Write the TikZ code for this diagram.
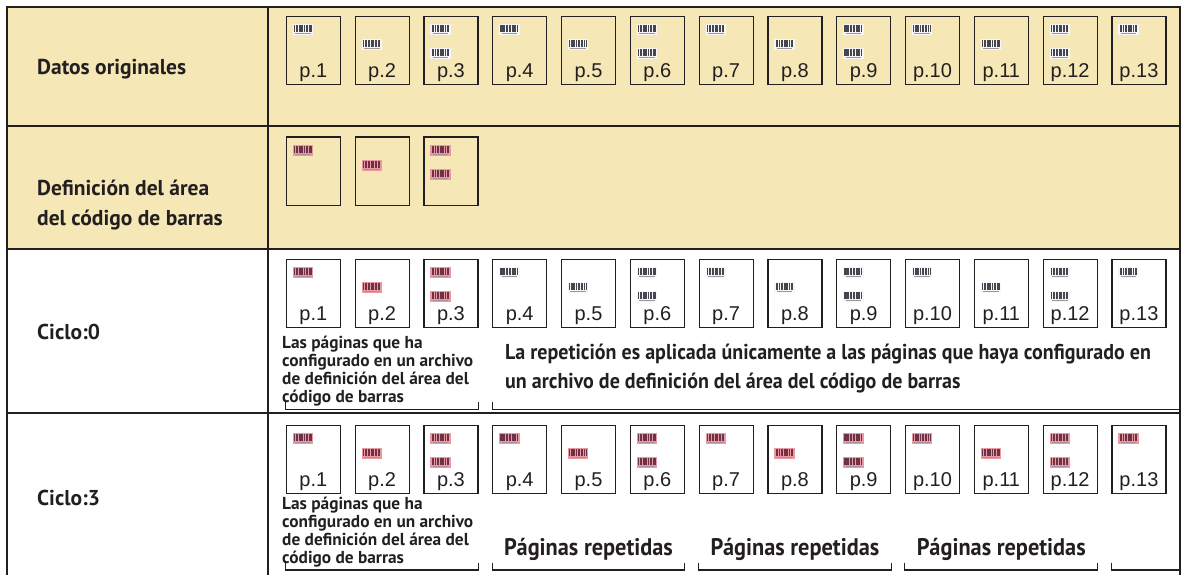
\documentclass[tikz,border=0pt]{standalone}
\usepackage{fontspec}
\setmainfont{PT Sans}
\newfontfamily\arialfont{Liberation Sans}
\newfontfamily\estrecha[FakeStretch=0.93]{PT Sans}
\usetikzlibrary{calc}

\definecolor{tinta}{RGB}{35,31,32}
\definecolor{crema}{RGB}{245,231,182}
\definecolor{rosa}{RGB}{234,152,162}
\definecolor{rosaosc}{RGB}{110,50,70}
\definecolor{blanco}{RGB}{246,246,246}
\definecolor{gris}{RGB}{70,70,80}

% codigo de barras pequeno, #1 = esquina superior izquierda, #2 = fondo, #3 = barras
\newcommand{\codbar}[3]{%
  \begin{scope}[shift={#1}]
    \fill[#2] (0,0) rectangle (20.5,-11);
    \foreach \b/\w in {1.2/1.2,3/0.7,4.3/1.4,6.4/0.7,7.7/1.2,9.6/0.7,10.9/1.4,13/0.7,14.3/1.2,16.2/0.7,17.6/1.3}
      \fill[#3] (\b,-0.8) rectangle ++(\w,-7.2);
    \fill[#3!55] (2.5,-8.8) rectangle (18,-9.7);
  \end{scope}}

% posiciones de los codigos en la pagina: 0 = arriba, 1 = en medio, 2 = arriba y abajo
\newcommand{\marcas}[4]{%
  \ifcase#2
    \codbar{($(#1.north west)+(7,-8.3)$)}{#3}{#4}%
  \or
    \codbar{($(#1.north west)+(7,-23.8)$)}{#3}{#4}%
  \or
    \codbar{($(#1.north west)+(7,-8.3)$)}{#3}{#4}%
    \codbar{($(#1.north west)+(7,-32.8)$)}{#3}{#4}%
  \fi}

\begin{document}
\begin{tikzpicture}[x=1pt,y=1pt,
    pagina/.style={draw=tinta, line width=1.2pt, minimum width=54pt, minimum height=68pt,
      inner sep=0pt, anchor=north west},
    numpag/.style={font=\arialfont\fontsize{20}{20}\selectfont, text=tinta, anchor=base, inner sep=0pt},
    rotulo/.style={font=\bfseries\fontsize{21.5}{30}\selectfont, text=tinta, anchor=west,
      align=left, inner sep=0pt},
    nota/.style={font=\bfseries\fontsize{17.3}{17.8}\selectfont, text=tinta, anchor=north west,
      align=left, inner sep=0pt},
    aviso/.style={font=\estrecha\bfseries\fontsize{21.5}{29}\selectfont, text=tinta, anchor=north west,
      align=left, inner sep=0pt},
    repetida/.style={font=\estrecha\bfseries\fontsize{24}{24}\selectfont, text=tinta, anchor=base,
      inner sep=0pt},
    corchete/.style={draw=tinta, line width=1.1pt},
    linea/.style={draw=tinta, line width=1.4pt},
    borde/.style={draw=tinta, line width=2pt}]

  \useasboundingbox (0,0) rectangle (1183,-575);

  % tabla: dos filas en crema, dos en blanco
  \fill[crema] (7,-7) rectangle (1180,-249);
  \draw[linea] (7,-126) -- (1180,-126);
  \draw[linea] (7,-249) -- (1180,-249);
  \draw[linea] (7,-413) -- (1180,-413);
  \draw[linea] (268,-7) -- (268,-575);
  \draw[borde] (7,-575) -- (7,-7) -- (1180,-7) -- (1180,-575);

  % rotulos de la primera columna
  \node[rotulo] (datos)  at (37,-69)  {Datos originales};
  \node[rotulo] (defin)  at (37,-205) {Definición del área\\del código de barras};
  \node[rotulo] (ciclo0) at (37,-332) {Ciclo:0};
  \node[rotulo] (ciclo3) at (37,-498) {Ciclo:3};

  % fila 1: datos originales
  \foreach \i in {1,...,13}{
    \pgfmathsetmacro{\px}{285.7+68.8*(\i-1)}
    \pgfmathtruncatemacro{\tipo}{mod(\i-1,3)}
    \node[pagina] (o\i) at (\px,-15.7) {};
    \marcas{o\i}{\tipo}{blanco}{gris}
    \node[numpag] (o\i n) at ($(o\i.south)+(0,7)$) {p.\i};
  }

  % fila 2: definicion del area (sin numero de pagina)
  \foreach \i in {1,2,3}{
    \pgfmathsetmacro{\px}{285.7+68.8*(\i-1)}
    \pgfmathtruncatemacro{\tipo}{mod(\i-1,3)}
    \node[pagina] (d\i) at (\px,-136.5) {};
    \marcas{d\i}{\tipo}{rosa}{rosaosc}
  }

  % fila 3: ciclo 0, solo p.1 a p.3 en rosa
  \foreach \i in {1,...,13}{
    \pgfmathsetmacro{\px}{285.7+68.8*(\i-1)}
    \pgfmathtruncatemacro{\tipo}{mod(\i-1,3)}
    \node[pagina] (a\i) at (\px,-258.5) {};
    \ifnum\i<4 \marcas{a\i}{\tipo}{rosa}{rosaosc}\else \marcas{a\i}{\tipo}{blanco}{gris}\fi
    \node[numpag] (a\i n) at ($(a\i.south)+(0,7)$) {p.\i};
  }

  % fila 4: ciclo 3, todas en rosa
  \foreach \i in {1,...,13}{
    \pgfmathsetmacro{\px}{285.7+68.8*(\i-1)}
    \pgfmathtruncatemacro{\tipo}{mod(\i-1,3)}
    \node[pagina] (b\i) at (\px,-424.5) {};
    \marcas{b\i}{\tipo}{rosa}{rosaosc}
    \node[numpag] (b\i n) at ($(b\i.south)+(0,7)$) {p.\i};
  }

  % textos y corchetes del ciclo 0
  \node[nota] (nota0) at (282,-336) {Las páginas que ha\\configurado en un archivo\\de definición del área del\\código de barras};
  \node[aviso] (aviso0) at (505,-344) {La repetición es aplicada únicamente a las páginas que haya configurado en\\un archivo de definición del área del código de barras};
  \draw[corchete] (a1.west |- 0,-401.7) |- (a3.east |- 0,-409.3) -- ++(0,7.6);
  \draw[corchete] (a4.west |- 0,-401.7) |- (1180,-409.3);

  % textos y corchetes del ciclo 3
  \node[nota] (nota3) at (282,-497) {Las páginas que ha\\configurado en un archivo\\de definición del área del\\código de barras};
  \draw[corchete] (b1.west |- 0,-562.7) |- (b3.east |- 0,-570) -- ++(0,7.3);
  \foreach \p/\q in {4/6,7/9,10/12}{
    \draw[corchete] (b\p.west |- 0,-562.7) |- (b\q.east |- 0,-570) -- ++(0,7.3);
    \node[repetida] (rep\p) at ($(b\p.west |- 0,-555)!0.5!(b\q.east |- 0,-555)$) {Páginas repetidas};
  }
  \draw[corchete] (b13.west |- 0,-562.7) |- (1180,-570);
\end{tikzpicture}
\end{document}
